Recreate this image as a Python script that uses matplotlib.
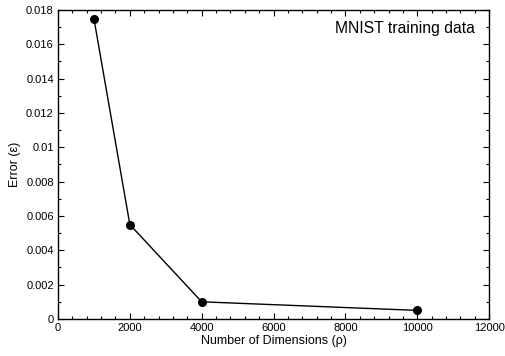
import matplotlib
matplotlib.use("Agg")
import matplotlib.pyplot as plt
from matplotlib.ticker import MultipleLocator

plt.rcParams['font.family'] = ['Liberation Sans', 'DejaVu Sans']

dimensions = [1000, 2000, 4000, 10000]
errors = [0.0175, 0.0055, 0.001, 0.0005]

fig = plt.figure(figsize=(5.06, 3.56), dpi=100)
ax = fig.add_axes([0.1146, 0.104, 0.852, 0.868])

ax.plot(dimensions, errors, color='black', lw=1.0, marker='o', ms=5.5,
        markerfacecolor='black', markeredgecolor='black')

ax.set_xlim(0, 12000)
ax.set_ylim(0, 0.018)
ax.xaxis.set_minor_locator(MultipleLocator(400))
ax.yaxis.set_minor_locator(MultipleLocator(0.001))

ax.set_xticks([0, 2000, 4000, 6000, 8000, 10000, 12000])
ax.set_xticklabels(['0', '2000', '4000', '6000', '8000', '10000', '12000'])
ax.set_yticks([0, 0.002, 0.004, 0.006, 0.008, 0.01, 0.012, 0.014, 0.016, 0.018])
ax.set_yticklabels(['0', '0.002', '0.004', '0.006', '0.008', '0.01',
                    '0.012', '0.014', '0.016', '0.018'])

ax.tick_params(which='both', direction='in', top=True, right=True,
               labelsize=8, colors='black')
ax.tick_params(which='major', length=4, width=0.8, pad=3)
ax.tick_params(which='minor', length=2, width=0.8)
for s in ax.spines.values():
    s.set_linewidth(1.0)

ax.set_xlabel('Number of Dimensions (ρ)', fontsize=9, labelpad=1)
ax.set_ylabel('Error (ε)', fontsize=9, labelpad=4)

ax.text(0.967, 0.94, 'MNIST training data', transform=ax.transAxes,
        ha='right', va='center', fontsize=11.3)

fig.savefig('out.png', dpi=100)
